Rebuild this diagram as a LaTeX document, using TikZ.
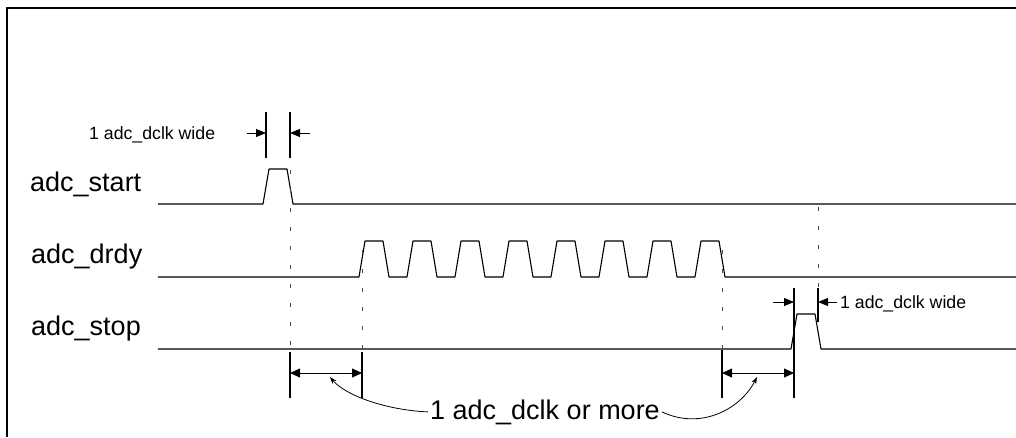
\documentclass[tikz,border=0pt]{standalone}
\usepackage{fontspec}
\setmainfont{Liberation Sans}
\usetikzlibrary{arrows.meta}

\begin{document}
\begin{tikzpicture}[
  x=1pt, y=-1pt,
  line join=round,
  frame/.style={line width=2.2pt, line join=miter},
  sig/.style={line width=1.1pt},
  dimline/.style={line width=1.4pt},
  guide/.style={line width=0.9pt, black!70, dash pattern=on 4pt off 15pt},
  tipin/.style={line width=0.8pt, -{Triangle[length=10pt,width=8pt]}},
  span/.style={line width=0.8pt, {Triangle[length=10pt,width=9pt]}-{Triangle[length=10pt,width=9pt]}},
  leader/.style={line width=0.8pt, -{Stealth[length=7pt,width=5pt]}},
  namelbl/.style={font=\fontsize{27}{32}\selectfont, anchor=base west, inner sep=0pt},
  lbl/.style={font=\fontsize{17.7}{21}\selectfont, anchor=base west, inner sep=0pt},
]
\useasboundingbox (0,0) rectangle (1016,437);

% ── the frame, open to the right and below ───────────────────────────────
\draw[frame] (7,437) -- (7,8) -- (1016,8);

% ── signal names ──────────────────────────────────────────────────────────
\node[namelbl] (start) at (30,191) {adc\_start};
\node[namelbl] (drdy)  at (31,263) {adc\_drdy};
\node[namelbl] (stop)  at (31,335) {adc\_stop};

% ── the waveforms ─────────────────────────────────────────────────────────
\draw[sig] (158,204) -- (263,204) -- ++(6,-35) -- ++(18,0) -- ++(6,35) -- (1016,204);
\draw[sig] (158,277)
  \foreach \k in {0,...,7} { -- ({359+48*\k},277) -- ++(6,-36) -- ++(18,0) -- ++(6,36) }
  -- (1016,277);
\draw[sig] (158,349) -- (791,349) -- ++(6,-35) -- ++(18,0) -- ++(6,35) -- (1016,349);

% ── guides down from the edges ────────────────────────────────────────────
\draw[guide] (290,170) -- (290,350);
\draw[guide] (362,250) -- (362,350);
\draw[guide] (722,250) -- (722,350);
\draw[guide] (818,207) -- (818,288);

% ── width of adc_start ────────────────────────────────────────────────────
\draw[dimline] (266,112) -- (266,158);
\draw[dimline] (290,112) -- (290,158);
\draw[tipin] (247,133) -- (266,133);
\draw[tipin] (310,133) -- (290,133);
\node[lbl] (startw) at (89,139) {1 adc\_dclk wide};

% ── width of adc_stop ─────────────────────────────────────────────────────
\draw[dimline] (794,288) -- (794,398);
\draw[dimline] (818,288) -- (818,322);
\draw[tipin] (773,302) -- (794,302);
\draw[tipin] (837,302) -- (818,302);
\node[lbl] (stopw) at (840,308) {1 adc\_dclk wide};

% ── gaps before and after adc_drdy ────────────────────────────────────────
\draw[dimline] (290,352) -- (290,398);
\draw[dimline] (362,352) -- (362,398);
\draw[dimline] (722,350) -- (722,398);
\draw[span] (290,373) -- (362,373);
\draw[span] (722,373) -- (794,373);
\coordinate (gapA) at (330,377);
\coordinate (gapB) at (757,377);

\node[namelbl, inner sep=2pt] (more) at (428,419) {1 adc\_dclk or more};
\draw[leader] (more.west) .. controls (385,410) and (345,395) .. (gapA);
\draw[leader] (more.east) .. controls (700,430) and (740,410) .. (gapB);

\end{tikzpicture}
\end{document}
